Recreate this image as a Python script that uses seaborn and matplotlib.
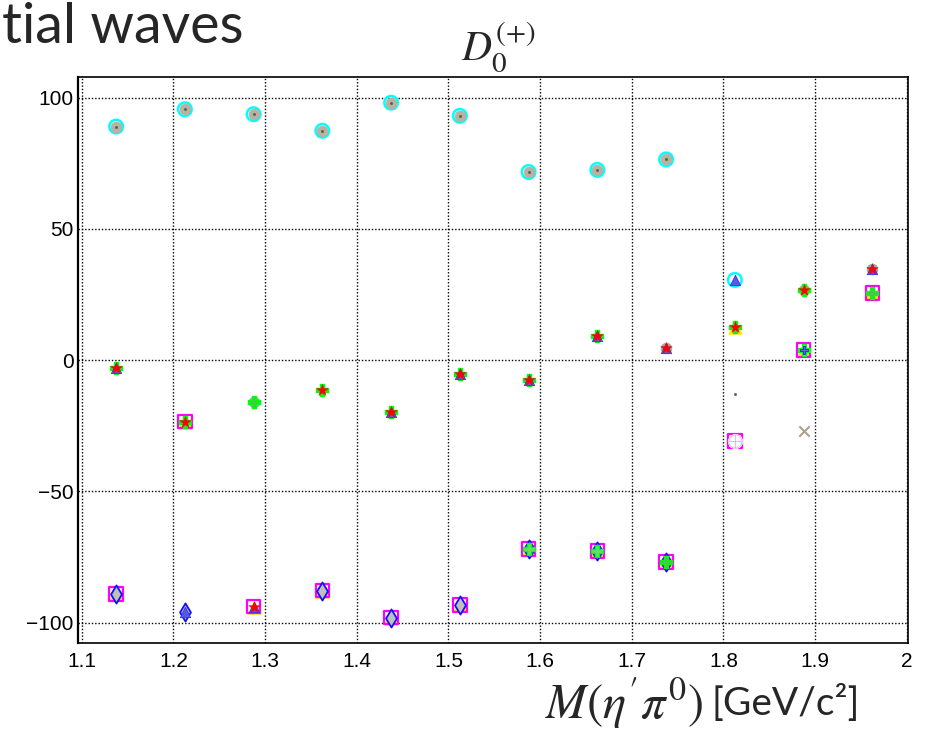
"""
Phase of the D_0^(+) partial wave vs M(eta' pi0) -- ROOT style multi-solution scatter.
"""

import numpy as np
import matplotlib
matplotlib.use("Agg")
import matplotlib.pyplot as plt
from matplotlib.ticker import MultipleLocator, FuncFormatter
import seaborn as sns

nan = np.nan

# bin centres [GeV/c^2]
mass = [1.1375, 1.2125, 1.2875, 1.3625, 1.4375, 1.5125,
        1.5875, 1.6625, 1.7375, 1.8125, 1.8875, 1.9625]

# phases per fit solution (one marker style each)
cyan_circle = [89.0, 95.6, 93.7, 87.4, 98.1, 93.1, 71.7, 72.5, 76.5, 30.6, nan, nan]
gray_circle = [89.0, 95.6, 93.7, 87.4, 98.1, 93.1, 71.7, 72.5, 76.5, nan, nan, nan]
gray_circle2 = [nan, nan, -15.8, nan, nan, nan, nan, nan, 4.5, nan, 26.7, 34.6]
dark_dot = [89.0, 95.6, 93.7, 87.4, 98.1, 93.1, 71.7, 72.5, 76.5, -12.9, nan, nan]
yellow_tri = [-89.1, -23.4, -93.9, -87.8, -98.1, -93.3, -71.9, -72.7, -76.8, 12.5, 3.9, 25.5]
magenta_sq = [-89.1, -23.4, -93.9, -87.8, -98.1, -93.3, -71.9, -72.7, -76.8, -30.7, 3.9, 25.5]
blue_diamond = [-89.1, -95.8, nan, -87.8, -98.1, -93.3, -71.9, -72.7, -76.8, nan, nan, nan]
green_cross = [-3.1, -23.4, -15.8, -11.4, -19.6, -5.4, -7.5, 9.2, -76.8, 12.5, 26.7, 25.5]
green_cross2 = [nan, nan, nan, nan, nan, nan, -71.9, -72.7, nan, nan, 3.9, nan]
blue_tri = [-3.1, -95.8, -93.9, nan, -19.6, -5.4, -7.5, 9.2, 4.5, 30.6, nan, 34.6]
blue_plus = [nan, nan, nan, nan, nan, nan, nan, nan, nan, nan, 3.9, nan]
red_star = [-3.1, -23.4, -93.9, -11.4, -19.6, -5.4, -7.5, 9.2, 4.5, 12.5, 26.7, 34.6]
circle_plus = [nan, nan, nan, nan, nan, nan, nan, nan, nan, -30.7, nan, nan]
brown_x = [nan, nan, nan, nan, nan, nan, nan, nan, nan, nan, -27.0, nan]

sns.set_style("white")
plt.rcParams["font.family"] = ["Liberation Sans", "DejaVu Sans"]
plt.rcParams["mathtext.fontset"] = "stix"

fig = plt.figure(figsize=(9.36, 7.34), dpi=100)
ax = fig.add_axes([77.7 / 936, 1 - 643.3 / 734, (908.3 - 77.7) / 936, (643.3 - 76.7) / 734])

# (values, marker, face, edge, size, linewidth), drawn in this order
layers = [
    (yellow_tri, "^", "#ffe600", "#ffe600", 95, 0.5),
    (magenta_sq, "s", "none", "#ff00ff", 95, 1.6),
    (cyan_circle, "o", "none", "#00ffff", 95, 1.8),
    (gray_circle, "o", "#b8b2a0", "#b8b2a0", 62, 0.5),
    (blue_diamond, "d", "#c0c0b8", "#1010ff", 85, 1.3),
    (gray_circle2, "o", "#a0a898", "#a0a898", 60, 0.5),
    (green_cross, "P", "#44cc44", "#00ff00", 80, 1.0),
    (green_cross2, "P", "#66dd66", "#00ff00", 70, 1.0),
    (blue_tri, "^", "#5a5ae0", "#3030ff", 55, 0.6),
    (blue_plus, "P", "#6060e0", "#2020ff", 35, 0.6),
    (red_star, "*", "#ff0000", "#ff0000", 75, 0.3),
    (circle_plus, r"$\oplus$", "#a8b4b4", None, 110, 0.5),
    (brown_x, "x", "#b0a08c", None, 55, 1.5),
    (dark_dot, "o", "#555555", "#555555", 3, 0.3),
]

for vals, marker, face, edge, size, lw in layers:
    kws = dict(x=mass, y=vals, marker=marker, s=size, linewidth=lw, ax=ax,
               legend=False, zorder=3)
    if edge is None:
        sns.scatterplot(color=face, **kws)
    else:
        sns.scatterplot(color=face, edgecolor=edge, **kws)

ax.set_xlim(1.0956, 2.0017)
ax.set_ylim(-107.85, 108.0)
ax.set_xlabel("")
ax.set_ylabel("")

ax.xaxis.set_major_locator(MultipleLocator(0.1))
ax.xaxis.set_minor_locator(MultipleLocator(0.02))
ax.yaxis.set_major_locator(MultipleLocator(50))
ax.yaxis.set_minor_locator(MultipleLocator(10))
ax.xaxis.set_major_formatter(FuncFormatter(lambda v, p: f"{v:g}"))

ax.tick_params(axis="both", which="both", direction="in", top=False, right=False,
               labelsize=15, colors="black", width=1.0)
ax.tick_params(axis="x", which="major", length=12, pad=6)
ax.tick_params(axis="x", which="minor", length=6)
ax.tick_params(axis="y", which="major", length=15, pad=3)
ax.tick_params(axis="y", which="minor", length=7.5)

ax.grid(True, which="major", color="black", linestyle=(0, (1, 1.4)), linewidth=1.0)
ax.set_axisbelow(True)
for side in ax.spines.values():
    side.set_color("black")
    side.set_linewidth(1.2)
ax.spines["left"].set_linewidth(1.6)

# title and axis label as on the slide
fig.text(0.533, 0.935, r"$D_0^{(+)}$", ha="center", va="center", fontsize=30)
fig.text(0.002, 0.962, "tial waves", ha="left", va="center", fontsize=40,
         family=["Lato", "DejaVu Sans"])
fig.text(703 / 936, 1 - 703 / 734, r"$M(\eta'\pi^0)$", ha="right", va="center",
         fontsize=35)
fig.text(860 / 936, 1 - 703 / 734, "[GeV/c²]", ha="right", va="center",
         fontsize=28, family=["Lato", "DejaVu Sans"])

fig.savefig("out.png", dpi=100)
plt.close(fig)
